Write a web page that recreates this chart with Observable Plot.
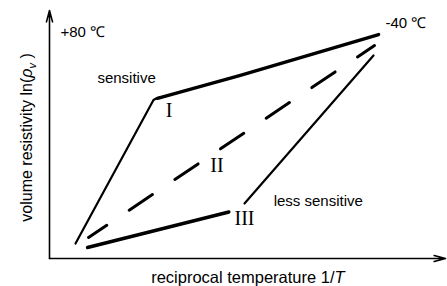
<!DOCTYPE html>
<html>
<head>
<meta charset="utf-8">
<script src="https://cdn.jsdelivr.net/npm/d3@7"></script>
<script src="https://cdn.jsdelivr.net/npm/@observablehq/plot@0.6"></script>
<style>
  html, body { margin: 0; padding: 0; background: #fff; }
  #chart svg { display: block; }
</style>
</head>
<body>
<div id="chart"></div>
<script>
// ---- data (arbitrary units: x = 1/T, y = ln(rho_v), both 0..100) ----
const curveISteep = [
  {x: 6.57, y: 6.05}, {x: 26.26, y: 63.9}, {x: 27.02, y: 64.6}, {x: 28.03, y: 65.0}
];
const curveIFlat = [
  {x: 27.27, y: 64.6}, {x: 48.2, y: 73.8}, {x: 83.1, y: 90.3}
];
const curveII = [
  {x: 9.85, y: 8.47}, {x: 82.07, y: 85.89}
];
const curveIIIFlat = [
  {x: 9.6, y: 4.44}, {x: 45.3, y: 18.75}
];
const curveIIISteep = [
  {x: 49.24, y: 22.18}, {x: 81.82, y: 81.85}
];
const axisArrows = [
  {x1: 0, y1: 0, x2: 100, y2: 0},
  {x1: 0, y1: 0, x2: 0, y2: 100}
];
const annotations = [
  {x: 2.78, y: 91.1, text: "+80 \u2103"},
  {x: 84.85, y: 94.8, text: "-40 \u2103"},
  {x: 12.1, y: 72.6, text: "sensitive"},
  {x: 56.6, y: 23.2, text: "less sensitive"}
];
const romanLabels = [
  {x: 30.2, y: 59.5, text: "I"},
  {x: 42.3, y: 37.3, text: "II"},
  {x: 49.24, y: 15.9, text: "III"}
];
const xTitle = [{x: 50.1, y: -7.7, text: "reciprocal temperature 1/T"}];
const yTitle = [{x: -5.8, y: 48.8, text: "volume resistivity ln(\u03C1v)"}];

const sans = "'Liberation Sans', Arial, Helvetica, sans-serif";
const serif = "'Liberation Serif', 'Times New Roman', serif";

const chart = Plot.plot({
  width: 447,
  height: 286,
  marginLeft: 49,
  marginRight: 2,
  marginTop: 10,
  marginBottom: 28,
  x: {domain: [0, 100], axis: null},
  y: {domain: [0, 100], axis: null},
  style: {background: "#fff", color: "#000", fontFamily: sans},
  marks: [
    Plot.arrow(axisArrows, {x1: "x1", y1: "y1", x2: "x2", y2: "y2",
      stroke: "#000", strokeWidth: 1.6, headAngle: 30, headLength: 11, bend: 0}),
    Plot.line(curveISteep, {x: "x", y: "y", stroke: "#000", strokeWidth: 2.2, curve: "linear"}),
    Plot.line(curveIFlat, {x: "x", y: "y", stroke: "#000", strokeWidth: 3.4, curve: "linear"}),
    Plot.line(curveII, {x: "x", y: "y", stroke: "#000", strokeWidth: 3, strokeDasharray: "28,27", strokeDashoffset: 6}),
    Plot.line(curveIIIFlat, {x: "x", y: "y", stroke: "#000", strokeWidth: 3.4}),
    Plot.line(curveIIISteep, {x: "x", y: "y", stroke: "#000", strokeWidth: 2.2}),
    Plot.text(annotations, {x: "x", y: "y", text: "text", textAnchor: "start", fontSize: 15, fill: "#000", fontFamily: sans}),
    Plot.text(romanLabels, {x: "x", y: "y", text: "text", textAnchor: "middle", fontSize: 20, fill: "#000", fontFamily: serif}),
    Plot.text(xTitle, {x: "x", y: "y", text: "text", textAnchor: "middle", fontSize: 16.5, fill: "#000", fontFamily: sans}),
    Plot.text(yTitle, {x: "x", y: "y", text: "text", textAnchor: "middle", rotate: -90, fontSize: 16, fill: "#000", fontFamily: sans})
  ]
});

// rich formatting of the axis titles (italic symbols, subscript)
d3.select(chart).selectAll("text").each(function() {
  const t = this.textContent;
  if (t === "reciprocal temperature 1/T") {
    this.textContent = "";
    const s = d3.select(this);
    s.append("tspan").text("reciprocal temperature 1/");
    s.append("tspan").attr("font-style", "italic").text("T");
  } else if (t === "volume resistivity ln(\u03C1v)") {
    this.textContent = "";
    const s = d3.select(this);
    s.append("tspan").text("volume resistivity ln(");
    s.append("tspan").attr("font-style", "italic").text("\u03C1");
    s.append("tspan").attr("font-style", "italic").attr("font-size", "11px").attr("dy", "4").text("v");
    s.append("tspan").attr("dy", "-4").text(" )");
  }
});

document.getElementById("chart").appendChild(chart);
</script>
</body>
</html>
